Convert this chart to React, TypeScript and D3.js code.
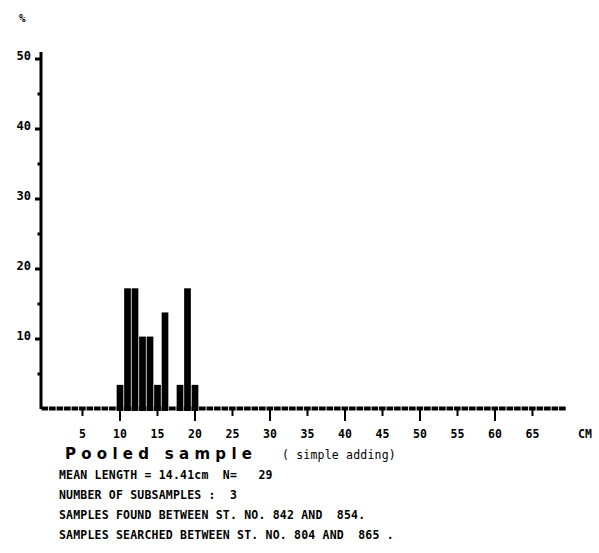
import React from "react";
import * as d3 from "d3";

const width = 599;
const height = 553;

// length classes (cm) and number of fish in each, pooled from 3 subsamples
const lengths = [10, 11, 12, 13, 14, 15, 16, 18, 19, 20];
const counts = [1, 5, 5, 3, 3, 1, 4, 1, 5, 1];
const sampleN = 29;
const meanLength = "14.41";

const yTicks = [10, 20, 30, 40, 50];
const yMinor = [5, 15, 25, 35, 45];
const xTicks = [5, 10, 15, 20, 25, 30, 35, 40, 45, 50, 55, 60, 65];

const infoLines = [
  `MEAN LENGTH = ${meanLength}cm  N=   ${sampleN}`,
  "NUMBER OF SUBSAMPLES :  3",
  "SAMPLES FOUND BETWEEN ST. NO. 842 AND  854.",
  "SAMPLES SEARCHED BETWEEN ST. NO. 804 AND  865 .",
];

const mono = "'DejaVu Sans Mono', monospace";

const x = d3.scaleLinear().domain([0, 70]).range([45, 570]);
const y = d3.scaleLinear().domain([0, 50]).range([409, 59]);

export default function App() {
  const bars = lengths.map((l, i) => ({
    x0: x(l - 0.5),
    x1: x(l + 0.5),
    top: y((counts[i] / sampleN) * 100),
  }));
  const cells = d3.range(0, 70);

  return (
    <svg
      width={width}
      height={height}
      style={{ position: "absolute", left: 0, top: 0, background: "#fff" }}
    >
      <text x={19} y={22} fontFamily={mono} fontSize={11} fontWeight="bold">%</text>

      {/* y axis */}
      <rect x={39.5} y={52} width={3} height={y(0) - 52} fill="#000" />
      {yTicks.map((t) => (
        <g key={t}>
          <rect x={35} y={y(t) - 1.5} width={5} height={3} fill="#000" />
          <text x={31} y={y(t) + 1} textAnchor="end" fontFamily={mono} fontSize={12} fontWeight="bold">
            {t}
          </text>
        </g>
      ))}
      {yMinor.map((t) => (
        <rect key={t} x={37.5} y={y(t) - 1.5} width={2.5} height={3} fill="#000" />
      ))}

      {/* baseline drawn as empty length classes */}
      {cells.map((c) => (
        <rect
          key={c}
          x={Math.max(40, x(c - 0.5) + 0.3)}
          y={406.5}
          width={x(c + 0.5) - Math.max(40, x(c - 0.5) + 0.3) - 0.6}
          height={4}
          fill="#000"
        />
      ))}

      {/* bars */}
      {bars.map((b, i) => (
        <rect
          key={i}
          x={b.x0 + 0.4}
          y={b.top}
          width={b.x1 - b.x0 - 0.8}
          height={y(0) + 2 - b.top}
          fill="#000"
        />
      ))}

      {/* x ticks */}
      {xTicks.map((t) => (
        <g key={t}>
          <rect x={x(t) - 1} y={410} width={2} height={t % 10 === 0 ? 11 : 6} fill="#000" />
          <text x={x(t)} y={438} textAnchor="middle" fontFamily={mono} fontSize={11.5} fontWeight="bold">
            {t}
          </text>
        </g>
      ))}
      <text x={x(72)} y={438} textAnchor="middle" fontFamily={mono} fontSize={11.5} fontWeight="bold">
        CM
      </text>

      {/* caption */}
      <text
        x={65}
        y={459}
        fontFamily="'DejaVu Sans', sans-serif"
        fontWeight="bold"
        fontSize={15}
        textLength={187}
        lengthAdjust="spacing"
      >
        Pooled sample
      </text>
      <text x={282} y={459} fontFamily={mono} fontSize={11.5} letterSpacing={0.2}>
        ( simple adding)
      </text>
      {infoLines.map((line, i) => (
        <text
          key={i}
          x={59}
          y={479 + i * 20}
          fontFamily={mono}
          fontSize={11.5}
          fontWeight="bold"
          letterSpacing={0.2}
          style={{ whiteSpace: "pre" }}
        >
          {line}
        </text>
      ))}
    </svg>
  );
}
